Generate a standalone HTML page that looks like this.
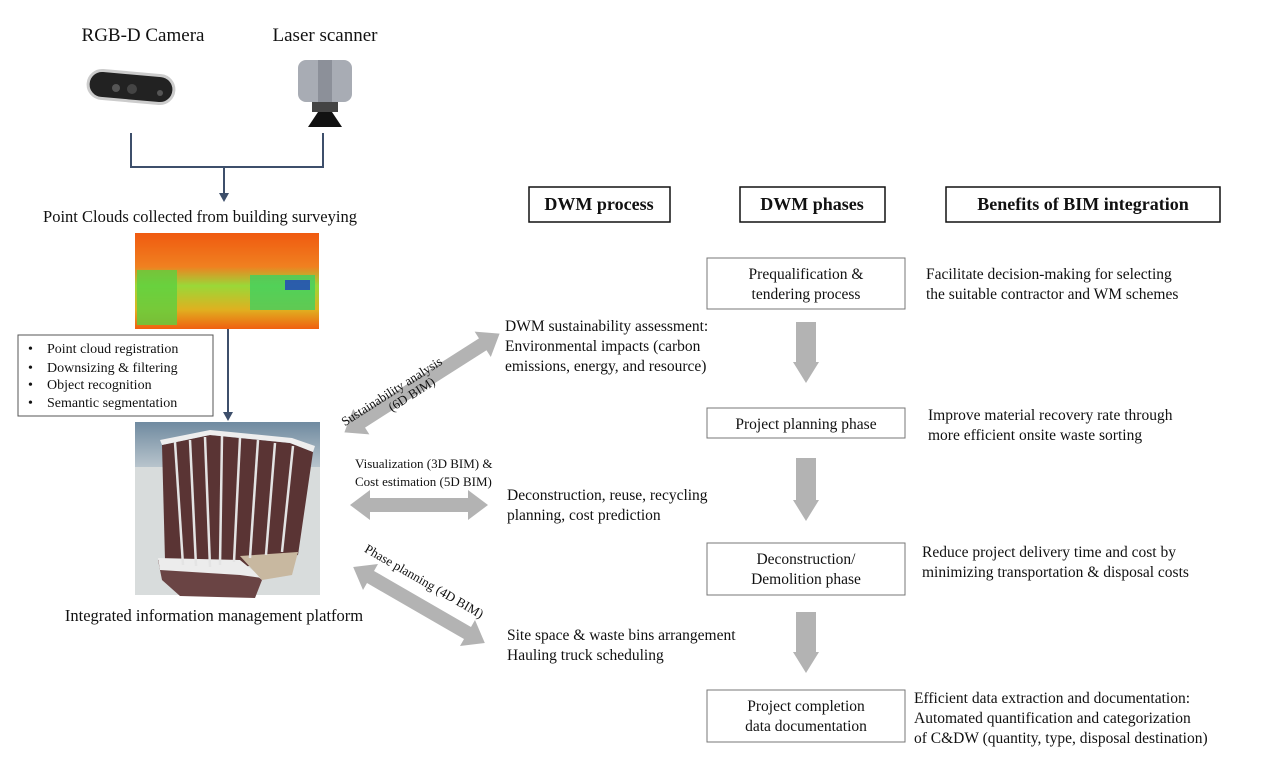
<!DOCTYPE html>
<html><head><meta charset="utf-8"><style>
html,body{margin:0;padding:0;background:#fff;}
svg{display:block;font-family:"Liberation Serif",serif;}
</style></head><body>
<svg width="1280" height="784" viewBox="0 0 1280 784" xmlns="http://www.w3.org/2000/svg">
<defs>
<linearGradient id="pc" x1="0" y1="0" x2="0" y2="1">
<stop offset="0" stop-color="#f05a10"/><stop offset="0.35" stop-color="#f08020"/><stop offset="0.55" stop-color="#9ad838"/><stop offset="0.8" stop-color="#e0b020"/><stop offset="1" stop-color="#f06010"/>
</linearGradient>
<linearGradient id="sky" x1="0" y1="0" x2="0" y2="1"><stop offset="0" stop-color="#6f8aa0"/><stop offset="1" stop-color="#b8c4cc"/></linearGradient>
</defs>
<g font-size="19" fill="#111">
<text x="143" y="41" text-anchor="middle">RGB-D Camera</text>
<text x="325" y="41" text-anchor="middle">Laser scanner</text>
</g>
<!-- camera -->
<rect x="88" y="73" width="86" height="28" rx="14" fill="#222" stroke="#ccc" stroke-width="3" transform="rotate(5 131 87)"/>
<circle cx="116" cy="88" r="4" fill="#555"/><circle cx="132" cy="89" r="5" fill="#444"/><circle cx="160" cy="93" r="3" fill="#555"/>
<!-- scanner -->
<rect x="298" y="60" width="54" height="42" rx="8" fill="#a8acb4"/>
<rect x="318" y="60" width="14" height="42" fill="#8c9099"/>
<rect x="312" y="102" width="26" height="10" fill="#444"/>
<polygon points="308,127 318,112 332,112 342,127" fill="#111"/>
<!-- connector -->
<g stroke="#3d4f6b" stroke-width="2" fill="none">
<path d="M131 133 V167 H323 V133"/><path d="M224 167 V195"/><path d="M228 329 V415"/>
</g>
<polygon points="219,193 229,193 224,202" fill="#3d4f6b"/>
<polygon points="223,412 233,412 228,421" fill="#3d4f6b"/>
<text x="200" y="222" font-size="16.5" text-anchor="middle" fill="#111">Point Clouds collected from building surveying</text>
<!-- point cloud image -->
<rect x="135" y="233" width="184" height="96" fill="url(#pc)"/>
<rect x="137" y="270" width="40" height="55" fill="#5cd040" opacity="0.8"/>
<rect x="250" y="275" width="65" height="35" fill="#40d060" opacity="0.8"/>
<rect x="285" y="280" width="25" height="10" fill="#2040c0" opacity="0.8"/>
<!-- bullet box -->
<rect x="18" y="335" width="195" height="81" fill="#fff" stroke="#555" stroke-width="1"/>
<g font-size="14" fill="#111">
<text x="28" y="353">•</text><text x="47" y="353">Point cloud registration</text>
<text x="28" y="372">•</text><text x="47" y="372">Downsizing &amp; filtering</text>
<text x="28" y="389">•</text><text x="47" y="389">Object recognition</text>
<text x="28" y="407">•</text><text x="47" y="407">Semantic segmentation</text>
</g>
<!-- building -->
<rect x="135" y="422" width="185" height="173" fill="#d8dcdc"/>
<rect x="135" y="422" width="185" height="45" fill="url(#sky)"/>
<polygon points="162,445 210,435 290,443 313,452 298,555 240,568 178,572 165,560" fill="#5a3434"/>
<polygon points="160,440 210,430 292,438 315,446 313,452 290,443 210,435 162,445" fill="#eeeeee"/>
<polygon points="158,560 240,562 262,580 255,598 180,596 162,580" fill="#6a4444"/>
<polygon points="158,558 240,560 262,578 240,575 160,570" fill="#ececec"/>
<polygon points="240,556 298,552 292,575 262,580" fill="#c8b8a0"/>
<g stroke="#e4e4e4" stroke-width="2.5">
<line x1="175" y1="442" x2="183" y2="565"/><line x1="190" y1="440" x2="196" y2="566"/><line x1="205" y1="437" x2="210" y2="567"/>
<line x1="222" y1="436" x2="220" y2="565"/><line x1="240" y1="438" x2="234" y2="562"/><line x1="258" y1="440" x2="250" y2="558"/>
<line x1="275" y1="443" x2="266" y2="555"/><line x1="293" y1="446" x2="282" y2="552"/>
</g>
<text x="214" y="621" font-size="16.5" text-anchor="middle" fill="#111">Integrated information management platform</text>
<!-- gray double arrows -->
<g fill="#b3b3b3">
<g transform="translate(422,383) rotate(-32.5)"><polygon points="-92,0 -72,-15 -72,-7 72,-7 72,-15 92,0 72,15 72,7 -72,7 -72,15"/></g>
<polygon points="350,505 370,490 370,498 468,498 468,490 488,505 468,520 468,512 370,512 370,520"/>
<g transform="translate(419,605) rotate(30)"><polygon points="-76,0 -56,-15 -56,-7 56,-7 56,-15 76,0 56,15 56,7 -56,7 -56,15"/></g>
</g>
<g font-size="13" fill="#111">
<text transform="translate(394,395) rotate(-32.5)" text-anchor="middle">Sustainability analysis</text>
<text transform="translate(414,398) rotate(-32.5)" text-anchor="middle">(6D BIM)</text>
<text x="355" y="468">Visualization (3D BIM) &amp;</text>
<text x="355" y="486">Cost estimation (5D BIM)</text>
<text transform="translate(422,585) rotate(30)" text-anchor="middle">Phase planning (4D BIM)</text>
</g>
<g font-size="15.5" fill="#111">
<text x="505" y="331">DWM sustainability assessment:</text>
<text x="505" y="351">Environmental impacts (carbon</text>
<text x="505" y="371">emissions, energy, and resource)</text>
<text x="507" y="500">Deconstruction, reuse, recycling</text>
<text x="507" y="520">planning, cost prediction</text>
<text x="507" y="640">Site space &amp; waste bins arrangement</text>
<text x="507" y="660">Hauling truck scheduling</text>
</g>
<!-- headers -->
<g fill="none" stroke="#111" stroke-width="1.5">
<rect x="529" y="187" width="141" height="35"/>
<rect x="740" y="187" width="145" height="35"/>
<rect x="946" y="187" width="274" height="35"/>
</g>
<g font-size="18" font-weight="bold" fill="#111" text-anchor="middle">
<text x="599" y="210">DWM process</text><text x="812" y="210">DWM phases</text><text x="1083" y="210">Benefits of BIM integration</text>
</g>
<!-- phase boxes -->
<g fill="#fff" stroke="#777" stroke-width="1">
<rect x="707" y="258" width="198" height="51"/>
<rect x="707" y="408" width="198" height="30"/>
<rect x="707" y="543" width="198" height="52"/>
<rect x="707" y="690" width="198" height="52"/>
</g>
<g font-size="15.5" fill="#111" text-anchor="middle">
<text x="806" y="279">Prequalification &amp;</text><text x="806" y="299">tendering process</text>
<text x="806" y="429">Project planning phase</text>
<text x="806" y="564">Deconstruction/</text><text x="806" y="584">Demolition phase</text>
<text x="806" y="711">Project completion</text><text x="806" y="731">data documentation</text>
</g>
<g fill="#b3b3b3">
<polygon points="796,322 816,322 816,362 819,362 806,383 793,362 796,362"/>
<polygon points="796,458 816,458 816,500 819,500 806,521 793,500 796,500"/>
<polygon points="796,612 816,612 816,652 819,652 806,673 793,652 796,652"/>
</g>
<g font-size="15.5" fill="#111">
<text x="926" y="279">Facilitate decision-making for selecting</text>
<text x="926" y="299">the suitable contractor and WM schemes</text>
<text x="928" y="420">Improve material recovery rate through</text>
<text x="928" y="440">more efficient onsite waste sorting</text>
<text x="922" y="557">Reduce project delivery time and cost by</text>
<text x="922" y="577">minimizing transportation &amp; disposal costs</text>
<text x="914" y="703">Efficient data extraction and documentation:</text>
<text x="914" y="723">Automated quantification and categorization</text>
<text x="914" y="743">of C&amp;DW (quantity, type, disposal destination)</text>
</g>
</svg>
</body></html>
